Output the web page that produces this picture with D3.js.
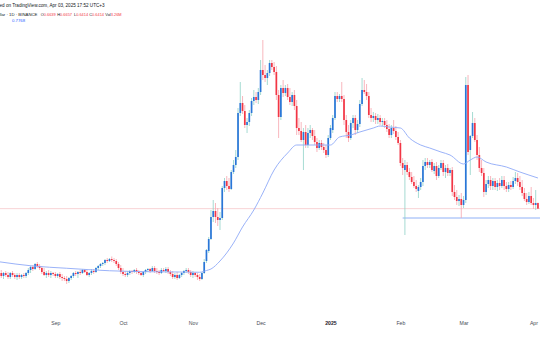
<!DOCTYPE html>
<html>
<head>
<meta charset="utf-8">
<script src="https://cdn.jsdelivr.net/npm/d3@7"></script>
<style>
  html, body { margin: 0; padding: 0; background: #ffffff; overflow: hidden; }
  svg { display: block; }
  text { font-family: "Liberation Sans", Arial, sans-serif; }
</style>
</head>
<body>
<svg id="chart" width="540" height="340"></svg>
<script>
// Daily ADA candles, first session 2024-08-07, last session 2025-04-03.
const firstSession = "2024-08-07";

// [open, high, low, close] for each daily session
const ohlc = [
  [0.368,0.392,0.356,0.388],[0.384,0.396,0.364,0.372],[0.372,0.388,0.360,0.384],[0.384,0.392,0.368,0.376],
  [0.376,0.388,0.360,0.368],[0.368,0.388,0.360,0.384],[0.384,0.392,0.368,0.376],[0.376,0.384,0.360,0.368],
  [0.368,0.384,0.356,0.376],[0.376,0.384,0.360,0.368],[0.368,0.380,0.360,0.376],[0.376,0.384,0.364,0.372],
  [0.372,0.388,0.364,0.384],[0.384,0.404,0.376,0.396],[0.396,0.412,0.384,0.408],[0.408,0.416,0.392,0.400],
  [0.400,0.424,0.396,0.420],[0.420,0.428,0.404,0.412],[0.412,0.420,0.396,0.404],[0.404,0.412,0.380,0.388],
  [0.388,0.404,0.372,0.376],[0.376,0.392,0.364,0.384],[0.384,0.396,0.368,0.376],[0.376,0.392,0.364,0.384],
  [0.384,0.388,0.372,0.380],[0.380,0.388,0.364,0.372],[0.372,0.384,0.364,0.380],[0.380,0.388,0.360,0.368],
  [0.368,0.380,0.352,0.364],[0.364,0.372,0.352,0.360],[0.360,0.372,0.340,0.352],[0.352,0.368,0.344,0.364],
  [0.364,0.376,0.356,0.372],[0.372,0.388,0.364,0.384],[0.384,0.392,0.372,0.380],[0.380,0.392,0.364,0.388],
  [0.388,0.396,0.376,0.384],[0.384,0.400,0.380,0.396],[0.396,0.400,0.384,0.388],[0.388,0.396,0.372,0.376],
  [0.376,0.388,0.368,0.384],[0.384,0.400,0.376,0.392],[0.392,0.400,0.380,0.388],[0.388,0.408,0.384,0.404],
  [0.404,0.416,0.396,0.412],[0.412,0.424,0.404,0.420],[0.420,0.428,0.412,0.424],[0.424,0.440,0.416,0.436],
  [0.436,0.444,0.424,0.432],[0.432,0.444,0.428,0.440],[0.440,0.450,0.428,0.436],[0.436,0.444,0.424,0.432],
  [0.432,0.440,0.412,0.420],[0.420,0.428,0.396,0.404],[0.404,0.416,0.380,0.388],[0.388,0.404,0.372,0.380],
  [0.380,0.392,0.368,0.376],[0.376,0.392,0.368,0.384],[0.384,0.396,0.376,0.392],[0.392,0.396,0.380,0.388],
  [0.388,0.400,0.384,0.396],[0.396,0.404,0.380,0.388],[0.388,0.396,0.376,0.384],[0.384,0.392,0.372,0.376],
  [0.376,0.392,0.368,0.388],[0.388,0.400,0.380,0.396],[0.396,0.404,0.388,0.400],[0.400,0.404,0.384,0.392],
  [0.392,0.412,0.388,0.404],[0.404,0.412,0.384,0.392],[0.392,0.404,0.380,0.388],[0.388,0.396,0.376,0.384],
  [0.384,0.404,0.380,0.396],[0.396,0.404,0.388,0.392],[0.392,0.408,0.384,0.400],[0.400,0.408,0.380,0.388],
  [0.388,0.396,0.372,0.380],[0.380,0.392,0.360,0.368],[0.368,0.384,0.360,0.376],[0.376,0.388,0.356,0.364],
  [0.364,0.380,0.360,0.376],[0.376,0.388,0.368,0.384],[0.384,0.396,0.376,0.392],[0.392,0.404,0.384,0.396],
  [0.396,0.404,0.380,0.388],[0.388,0.396,0.368,0.376],[0.376,0.392,0.364,0.384],[0.384,0.388,0.368,0.376],
  [0.376,0.384,0.356,0.368],[0.368,0.380,0.352,0.360],[0.360,0.388,0.356,0.384],[0.384,0.440,0.380,0.428],
  [0.432,0.480,0.424,0.476],[0.472,0.528,0.464,0.520],[0.520,0.636,0.516,0.608],[0.608,0.676,0.588,0.632],
  [0.632,0.664,0.584,0.608],[0.608,0.644,0.572,0.596],[0.596,0.628,0.556,0.604],[0.604,0.732,0.596,0.724],
  [0.724,0.764,0.708,0.752],[0.752,0.772,0.716,0.732],[0.732,0.764,0.708,0.720],[0.720,0.796,0.716,0.788],
  [0.788,0.836,0.780,0.816],[0.816,0.876,0.804,0.848],[0.848,1.044,0.836,1.024],[1.024,1.148,1.012,1.064],
  [1.064,1.092,1.020,1.032],[1.032,1.056,0.964,0.976],[0.976,1.004,0.944,0.988],[0.988,1.036,0.972,1.024],
  [1.024,1.084,1.012,1.072],[1.072,1.116,1.056,1.088],[1.088,1.108,1.064,1.076],[1.076,1.124,1.060,1.108],
  [1.108,1.236,1.096,1.196],[1.196,1.316,1.156,1.176],[1.176,1.216,1.148,1.164],[1.164,1.196,1.136,1.184],
  [1.184,1.236,1.172,1.224],[1.224,1.236,1.196,1.208],[1.208,1.228,1.176,1.188],[1.188,1.212,1.076,1.096],
  [1.096,1.116,0.924,1.008],[1.008,1.136,0.996,1.124],[1.124,1.156,1.088,1.104],[1.104,1.136,1.092,1.124],
  [1.124,1.140,1.076,1.088],[1.088,1.124,1.056,1.068],[1.068,1.108,1.052,1.096],[1.096,1.116,1.036,1.052],
  [1.052,1.076,0.936,0.964],[0.964,1.004,0.936,0.952],[0.952,0.988,0.908,0.916],[0.916,0.964,0.796,0.948],
  [0.948,0.976,0.884,0.896],[0.896,0.964,0.884,0.944],[0.944,0.976,0.924,0.956],[0.956,0.964,0.916,0.932],
  [0.932,0.956,0.896,0.908],[0.908,0.924,0.868,0.884],[0.884,0.916,0.876,0.904],[0.904,0.916,0.876,0.888],
  [0.888,0.904,0.864,0.876],[0.876,0.896,0.844,0.856],[0.856,0.936,0.848,0.924],[0.924,0.976,0.916,0.964],
  [0.956,1.016,0.944,1.004],[1.004,1.108,0.996,1.092],[1.092,1.108,1.068,1.080],[1.080,1.100,1.068,1.092],
  [1.092,1.148,1.068,1.080],[1.080,1.096,0.976,0.996],[0.996,1.016,0.924,0.948],[0.948,0.976,0.908,0.924],
  [0.924,0.996,0.916,0.984],[0.984,1.016,0.964,1.004],[1.004,1.016,0.936,0.956],[0.956,0.996,0.944,0.980],
  [0.980,1.076,0.968,1.060],[1.060,1.164,1.052,1.116],[1.116,1.156,1.100,1.108],[1.108,1.140,1.076,1.092],
  [1.092,1.108,1.004,1.016],[1.016,1.044,0.988,1.004],[1.004,1.028,0.988,1.012],[1.012,1.024,0.980,0.996],
  [0.996,1.020,0.980,1.004],[1.004,1.016,0.976,0.988],[0.988,1.004,0.972,0.992],[0.992,1.004,0.964,0.976],
  [0.976,0.996,0.948,0.960],[0.960,0.980,0.924,0.936],[0.936,0.976,0.924,0.964],[0.964,0.996,0.940,0.952],
  [0.952,0.972,0.916,0.928],[0.928,0.948,0.896,0.904],[0.904,0.916,0.812,0.824],[0.824,0.844,0.776,0.804],
  [0.796,0.836,0.536,0.816],[0.816,0.828,0.776,0.788],[0.788,0.804,0.756,0.768],[0.768,0.788,0.740,0.748],
  [0.748,0.772,0.724,0.732],[0.732,0.756,0.708,0.720],[0.712,0.736,0.684,0.728],[0.728,0.764,0.716,0.748],
  [0.748,0.836,0.732,0.812],[0.812,0.844,0.796,0.828],[0.828,0.844,0.804,0.816],[0.816,0.836,0.804,0.828],
  [0.828,0.840,0.788,0.796],[0.792,0.824,0.780,0.812],[0.812,0.828,0.756,0.772],[0.772,0.816,0.764,0.804],
  [0.804,0.836,0.796,0.824],[0.824,0.836,0.772,0.788],[0.788,0.816,0.764,0.804],[0.804,0.820,0.772,0.784],
  [0.784,0.804,0.772,0.796],[0.796,0.808,0.692,0.708],[0.708,0.736,0.676,0.688],[0.688,0.716,0.656,0.672],
  [0.672,0.696,0.652,0.680],[0.680,0.704,0.604,0.656],[0.656,0.692,0.644,0.676],[0.676,1.168,0.664,1.136],
  [1.136,1.176,0.856,0.868],[0.876,0.936,0.776,0.932],[0.932,1.028,0.924,0.984],[0.984,1.004,0.908,0.916],
  [0.916,0.936,0.836,0.856],[0.856,0.888,0.788,0.804],[0.804,0.836,0.772,0.784],[0.784,0.804,0.688,0.708],
  [0.708,0.756,0.696,0.740],[0.740,0.772,0.724,0.756],[0.756,0.772,0.716,0.732],[0.732,0.764,0.716,0.752],
  [0.752,0.764,0.716,0.728],[0.728,0.756,0.712,0.744],[0.744,0.764,0.716,0.732],[0.732,0.772,0.724,0.756],
  [0.756,0.772,0.716,0.732],[0.732,0.748,0.708,0.720],[0.720,0.748,0.708,0.736],[0.736,0.752,0.716,0.728],
  [0.728,0.768,0.720,0.752],[0.752,0.788,0.740,0.764],[0.764,0.784,0.732,0.748],[0.748,0.772,0.716,0.728],
  [0.728,0.756,0.692,0.704],[0.704,0.724,0.672,0.680],[0.680,0.704,0.656,0.668],[0.668,0.708,0.660,0.692],
  [0.692,0.728,0.656,0.664],[0.664,0.684,0.640,0.656],[0.656,0.716,0.636,0.664],[0.6639,0.6657,0.6414,0.6414]
];

// Moving average readings: [session number, value]
const maPoints = [
  [0,0.429],[15,0.412],[30,0.403],[49,0.393],[67,0.389],[80,0.388],[89,0.387],[92,0.394],
  [94,0.400],[98,0.432],[104,0.504],[108,0.568],[113,0.636],[117,0.704],[122,0.796],[128,0.864],
  [132,0.896],[137,0.896],[142,0.896],[147,0.896],[151,0.928],[156,0.936],[160,0.948],[166,0.964],
  [169,0.972],[173,0.968],[178,0.964],[182,0.924],[187,0.896],[191,0.884],[196,0.868],[200,0.856],
  [206,0.820],[209,0.836],[212,0.848],[216,0.828],[225,0.808],[231,0.788],[239,0.764]
];

// Horizontal support drawn from early February
const supportLevel = 0.604;
const supportFrom = "2025-02-02";

// Time axis labels
const monthTicks = ["2024-09-01","2024-10-01","2024-11-01","2024-12-01","2025-01-01","2025-02-01","2025-03-01","2025-04-01"];
const monthLabels = ["Sep","Oct","Nov","Dec","2025","Feb","Mar","Apr"];

// Legend texts
const publishLine = "ed on TradingView.com, Apr 03, 2025 17:52 UTC+3";
const symbolLine = "llar · 1D · BINANCE";
const legendKeys = ["O","H","L","C","Vol"];
const legendValues = ["0.6639","0.6657","0.6414","0.6414","3.26M"];
const maLegendValue = "0.7768";

const svg = d3.select("#chart");
const parse = d3.utcParse("%Y-%m-%d");
const start = parse(firstSession);
const sessions = ohlc.map((d, i) => ({
  date: d3.utcDay.offset(start, i), o: d[0], h: d[1], l: d[2], c: d[3]
}));
const last = sessions[sessions.length - 1];

const step = 2.255;
const x = d3.scaleUtc()
  .domain([start, last.date])
  .range([-1, -1 + step * (sessions.length - 1)]);
const y = d3.scaleLinear().domain([0.364, 1.316]).range([278, 40]);

const upBody = "#2a76d8", downBody = "#f23645";
const upWick = "#8fd2c7", downWick = "#f6a5ad";

// Last price line
svg.append("line")
  .attr("x1", 0).attr("x2", 540)
  .attr("y1", y(last.c)).attr("y2", y(last.c))
  .attr("stroke", "#f9d3d6").attr("stroke-width", 1);

// Support line
svg.append("line")
  .attr("x1", x(parse(supportFrom))).attr("x2", 540)
  .attr("y1", y(supportLevel)).attr("y2", y(supportLevel))
  .attr("stroke", "#8fb0f6").attr("stroke-width", 1);

// Candles
const g = svg.append("g");
g.selectAll("line.wick").data(sessions).join("line")
  .attr("class", "wick")
  .attr("x1", d => x(d.date)).attr("x2", d => x(d.date))
  .attr("y1", d => y(d.h)).attr("y2", d => y(d.l))
  .attr("stroke", d => d.c >= d.o ? upWick : downWick)
  .attr("stroke-width", 0.8);
g.selectAll("rect.body").data(sessions).join("rect")
  .attr("class", "body")
  .attr("x", d => x(d.date) - 0.85)
  .attr("width", 1.7)
  .attr("y", d => y(Math.max(d.o, d.c)))
  .attr("height", d => Math.max(0.8, Math.abs(y(d.o) - y(d.c))))
  .attr("fill", d => d.c >= d.o ? upBody : downBody);

// Moving average
const maLine = d3.line()
  .x(d => x(d3.utcDay.offset(start, d[0])))
  .y(d => y(d[1]))
  .curve(d3.curveMonotoneX);
svg.append("path")
  .datum(maPoints)
  .attr("d", maLine)
  .attr("fill", "none")
  .attr("stroke", "#8ea9f7")
  .attr("stroke-width", 0.9);

// Time axis
const axis = d3.axisBottom(x)
  .tickValues(monthTicks.map(parse))
  .tickSize(0)
  .tickFormat((d, i) => monthLabels[i]);
const ax = svg.append("g").attr("transform", "translate(0,318)").call(axis);
ax.select(".domain").remove();
ax.selectAll("text")
  .style("font-size", "5.2px")
  .style("font-weight", (d, i) => monthLabels[i] === "2025" ? "bold" : "normal")
  .attr("fill", (d, i) => monthLabels[i] === "2025" ? "#1e2029" : "#4a4d57");

// Legend
svg.append("text").attr("x", -0.5).attr("y", 6.6)
  .style("font-size", "4.6px").attr("fill", "#131722").text(publishLine);
svg.append("text").attr("x", -0.5).attr("y", 16)
  .style("font-size", "4.3px").attr("fill", "#131722").text(symbolLine);
const keyX = [40.7, 57.3, 74, 89.3, 105.3];
legendKeys.forEach((k, i) => {
  const t = svg.append("text").attr("x", keyX[i]).attr("y", 16).style("font-size", "3.9px");
  t.append("tspan").attr("fill", "#131722").text(k);
  t.append("tspan").attr("fill", "#f23645").text(legendValues[i]);
});
svg.append("text").attr("x", 12).attr("y", 21.6)
  .style("font-size", "4.3px").attr("fill", "#2962ff").text(maLegendValue);
</script>
</body>
</html>
